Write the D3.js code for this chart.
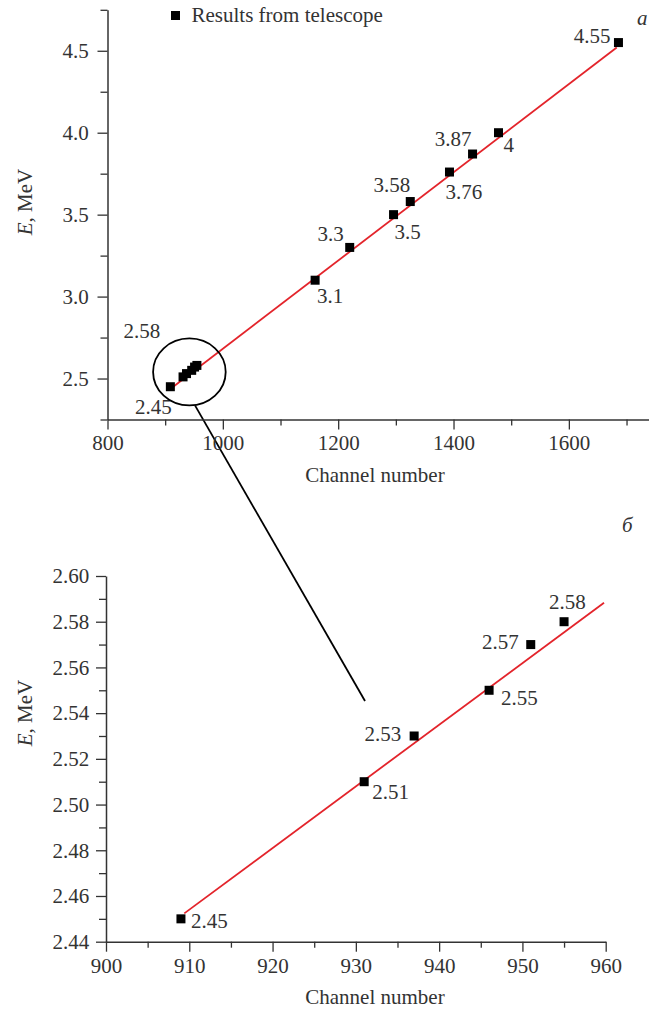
<!DOCTYPE html>
<html><head><meta charset="utf-8">
<script src="https://cdn.jsdelivr.net/npm/d3@7"></script>
<style>body{margin:0;background:#fff} svg{display:block}</style>
</head><body>
<svg id="chart" width="649" height="1010"></svg>
<script>
// ---------- data ----------
const topChannel = [909, 931, 937, 946, 951, 955, 1160, 1220, 1296, 1325, 1393, 1433, 1478, 1686];
const topEnergy  = [2.45, 2.51, 2.53, 2.55, 2.57, 2.58, 3.1, 3.3, 3.5, 3.58, 3.76, 3.87, 4.0, 4.55];
const topLabels  = ["2.45", "", "", "", "", "2.58", "3.1", "3.3", "3.5", "3.58", "3.76", "3.87", "4", "4.55"];
const topFitChannel = [914, 1683];
const topFitEnergy  = [2.45, 4.52];
const topXTicks = [800, 1000, 1200, 1400, 1600];
const topXMinorTicks = [900, 1100, 1300, 1500, 1700];
const topYTicks = [2.5, 3.0, 3.5, 4.0, 4.5];
const topYMinorTicks = [2.25, 2.75, 3.25, 3.75, 4.25, 4.75];

const zoomChannel = [909, 931, 937, 946, 951, 955];
const zoomEnergy  = [2.45, 2.51, 2.53, 2.55, 2.57, 2.58];
const zoomLabels  = ["2.45", "2.51", "2.53", "2.55", "2.57", "2.58"];
const zoomFitChannel = [909.4, 959.8];
const zoomFitEnergy  = [2.4524, 2.5883];
const zoomXTicks = [900, 910, 920, 930, 940, 950, 960];
const zoomXMinorTicks = [905, 915, 925, 935, 945, 955];
const zoomYTicks = [2.44, 2.46, 2.48, 2.50, 2.52, 2.54, 2.56, 2.58, 2.60];
const zoomYMinorTicks = [2.45, 2.47, 2.49, 2.51, 2.53, 2.55, 2.57, 2.59];

const legendLabel = "Results from telescope";
const xTitle = "Channel number";
const yTitleItalic = "E";
const yTitleRest = ", MeV";
const panelLabels = ["а", "б"];
const zoomCenter = [942, 2.54];          // circled region (channel, E) on top panel
const connectorTop = [951.7, 2.336];     // connector start, top-panel coords
const connectorBottom = [931.1, 2.5453]; // connector end, bottom-panel coords

// ---------- layout / style ----------
const FONT = "'Liberation Serif','Times New Roman',serif";
const FS = 21;
const TEXT = "#333";
const AX = "#333";
const RED = "#e3242b";
const SQ = 9;

// label placements: [anchor, dx, dy]
const topLabelPos = [["end",1.5,27],null,null,null,null,["end",-36.7,-27.5],["start",1.8,23],["end",-6,-6],
  ["start",1,24],["end",0,-9.5],["start",-4,27],["end",-1,-8],["start",5,19.5],["end",-8,0]];
const zoomLabelPos = [["start",10,9.5],["start",8,17],["end",-13,5],["start",12,15],["end",-12,4],["start",-15,-13]];

const svg = d3.select("#chart");

function drawAxes(x, y, xt, xmt, yt, ymt, yfmt, xPad, yPad) {
  const [x0] = x.range();
  const [y0] = y.range();
  const gx = svg.append("g").attr("transform", `translate(0,${y0})`)
    .call(d3.axisBottom(x).tickValues(xt).tickSize(10).tickSizeOuter(0).tickPadding(xPad).tickFormat(d3.format("d")));
  const gxm = svg.append("g").attr("transform", `translate(0,${y0})`)
    .call(d3.axisBottom(x).tickValues(xmt).tickSize(6).tickSizeOuter(0).tickFormat(""));
  const gy = svg.append("g").attr("transform", `translate(${x0},0)`)
    .call(d3.axisLeft(y).tickValues(yt).tickSize(10).tickSizeOuter(0).tickPadding(yPad).tickFormat(d3.format(yfmt)));
  const gym = svg.append("g").attr("transform", `translate(${x0},0)`)
    .call(d3.axisLeft(y).tickValues(ymt).tickSize(7).tickSizeOuter(0).tickFormat(""));
  [gx, gxm, gy, gym].forEach(g => {
    g.attr("color", AX).attr("font-family", FONT).attr("font-size", FS);
    g.selectAll("path.domain").attr("stroke-width", 1.5);
    g.selectAll(".tick line").attr("stroke-width", 1.3);
    g.selectAll("text").attr("fill", TEXT);
  });
  gxm.select("path.domain").remove();
  gym.select("path.domain").remove();
}

function drawTitles(cx, xBase, cy) {
  svg.append("text").attr("x", cx).attr("y", xBase).attr("text-anchor", "middle")
    .attr("font-family", FONT).attr("font-size", FS).attr("fill", TEXT).text(xTitle);
  const t = svg.append("text").attr("transform", `translate(32,${cy}) rotate(-90)`)
    .attr("text-anchor", "middle").attr("font-family", FONT).attr("font-size", FS).attr("fill", TEXT);
  t.append("tspan").attr("font-style", "italic").text(yTitleItalic);
  t.append("tspan").text(yTitleRest);
}

function drawPoints(x, y, cs, es, labels, pos) {
  svg.append("g").selectAll("rect").data(cs).join("rect")
    .attr("x", (d) => x(d) - SQ / 2)
    .attr("y", (d, i) => y(es[i]) - SQ / 2)
    .attr("width", SQ).attr("height", SQ).attr("fill", "#000");
  svg.append("g").selectAll("text").data(labels).join("text")
    .filter((d, i) => d !== "" && pos[i])
    .attr("x", function(d) { const i = labels.indexOf(d); return x(cs[i]) + pos[i][1]; })
    .attr("y", function(d) { const i = labels.indexOf(d); return y(es[i]) + pos[i][2]; })
    .attr("text-anchor", function(d) { return pos[labels.indexOf(d)][0]; })
    .attr("font-family", FONT).attr("font-size", FS).attr("fill", TEXT)
    .text(d => d);
}

function drawFit(x, y, cs, es) {
  const line = d3.line().x((d) => x(d[0])).y((d) => y(d[1]));
  svg.append("path").datum(cs.map((c, i) => [c, es[i]]))
    .attr("d", line).attr("fill", "none").attr("stroke", RED).attr("stroke-width", 1.8);
}

// ---------- top panel ----------
const xTop = d3.scaleLinear().domain([800, 1740]).range([107.5, 649.6]);
const yTop = d3.scaleLinear().domain([2.25, 4.75]).range([419.5, 9.8]);

// ---------- bottom panel ----------
const xBot = d3.scaleLinear().domain([900, 960]).range([106, 605.7]);
const yBot = d3.scaleLinear().domain([2.44, 2.60]).range([941.7, 576]);

// connector & circle (drawn first, beneath)
svg.append("line")
  .attr("x1", xTop(connectorTop[0])).attr("y1", yTop(connectorTop[1]))
  .attr("x2", xBot(connectorBottom[0])).attr("y2", yBot(connectorBottom[1]))
  .attr("stroke", "#000").attr("stroke-width", 1.8);

drawFit(xTop, yTop, topFitChannel, topFitEnergy);
drawPoints(xTop, yTop, topChannel, topEnergy, topLabels, topLabelPos);
svg.append("ellipse").attr("cx", xTop(zoomCenter[0])).attr("cy", yTop(zoomCenter[1]))
  .attr("rx", 36.3).attr("ry", 33.5).attr("fill", "none").attr("stroke", "#000").attr("stroke-width", 1.8);
drawAxes(xTop, yTop, topXTicks, topXMinorTicks, topYTicks, topYMinorTicks, ".1f", 5.6, 8.8);
drawTitles(375, 482, 202);

drawFit(xBot, yBot, zoomFitChannel, zoomFitEnergy);
drawPoints(xBot, yBot, zoomChannel, zoomEnergy, zoomLabels, zoomLabelPos);
drawAxes(xBot, yBot, zoomXTicks, zoomXMinorTicks, zoomYTicks, zoomYMinorTicks, ".2f", 6.7, 6.7);
drawTitles(375, 1004, 713);

// legend
svg.append("rect").attr("x", 171).attr("y", 11).attr("width", SQ).attr("height", SQ).attr("fill", "#000");
svg.append("text").attr("x", 191.5).attr("y", 22).attr("font-family", FONT).attr("font-size", FS)
  .attr("fill", TEXT).text(legendLabel);

// panel letters
svg.append("text").attr("x", 637).attr("y", 25).attr("font-family", FONT).attr("font-size", FS)
  .attr("font-style", "italic").attr("fill", TEXT).text(panelLabels[0]);
svg.append("text").attr("x", 622).attr("y", 532).attr("font-family", FONT).attr("font-size", FS)
  .attr("font-style", "italic").attr("fill", TEXT).text(panelLabels[1]);
</script>
</body></html>
